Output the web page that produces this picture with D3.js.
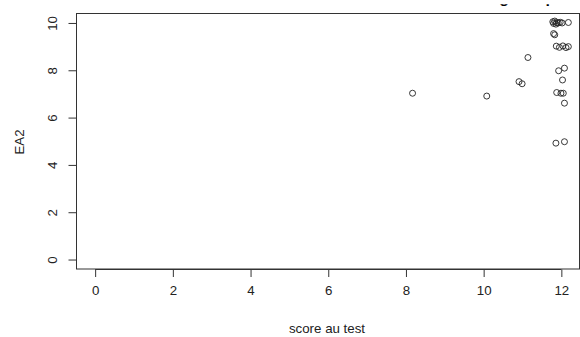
<!DOCTYPE html>
<html>
<head>
<meta charset="utf-8">
<script src="https://cdn.jsdelivr.net/npm/d3@7"></script>
<style>
  html, body { margin: 0; padding: 0; background: #fff; }
  svg { display: block; }
  text { font-family: "Liberation Sans", Arial, sans-serif; fill: #222; }
</style>
</head>
<body>
<svg id="chart" width="580" height="337"></svg>
<script>
// ---- data ----
const scoreTest = [8.17, 10.08, 10.91, 10.99, 11.14,
  11.78, 11.80, 11.83, 11.86, 11.88, 11.92, 11.97, 12.02, 12.18,
  11.80, 11.83,
  11.87, 11.95, 12.04, 12.12, 12.18,
  11.93, 12.08, 12.03,
  11.88, 11.99, 12.05, 12.08,
  11.86, 12.08];
const ea2 = [7.03, 6.91, 7.52, 7.43, 8.54,
  10.05, 9.98, 10.08, 9.95, 10.02, 10.00, 10.03, 10.00, 10.02,
  9.55, 9.50,
  9.02, 8.97, 9.03, 8.96, 9.00,
  7.98, 8.09, 7.59,
  7.06, 7.03, 7.03, 6.61,
  4.92, 4.98];
const xTicks = [0, 2, 4, 6, 8, 10, 12];
const yTicks = [0, 2, 4, 6, 8, 10];
const xLabel = "score au test";
const yLabel = "EA2";
const title = "Nuage de points";

const svg = d3.select("#chart");
const mLeft = 76.5, mRight = 580, mTop = 13.5, mBottom = 269;

const x = d3.scaleLinear().domain([-0.48, 12.48]).range([mLeft, mRight]);
const y = d3.scaleLinear().domain([-0.4, 10.4]).range([mBottom, mTop]);

// title (mostly outside the visible area, only descenders show)
const defs = svg.append("defs");
defs.append("clipPath").attr("id", "titleClip")
  .append("rect").attr("x", 0).attr("y", 4.2).attr("width", 580).attr("height", 10);
svg.append("text")
  .attr("clip-path", "url(#titleClip)")
  .attr("x", 469).attr("y", 2.5)
  .attr("font-size", 16).attr("font-weight", "bold")
  .style("fill", "#000")
  .text(title);

// box
svg.append("rect")
  .attr("x", mLeft).attr("y", mTop)
  .attr("width", 579.5 - mLeft).attr("height", mBottom - mTop)
  .attr("fill", "none").attr("stroke", "#333").attr("stroke-width", 1);

// x axis
const xAxis = d3.axisBottom(x).tickValues(xTicks).tickSize(7.5).tickPadding(9).tickFormat(d3.format("d"));
const gx = svg.append("g").attr("transform", `translate(0,${mBottom + 0.5})`).call(xAxis);
gx.select(".domain").attr("d", `M${x(0)},0H${x(12)}`).attr("stroke", "#333");
gx.selectAll(".tick line").attr("stroke", "#333");
gx.selectAll(".tick text").attr("font-size", 13.3).style("fill", "#222")
  .attr("font-family", "Liberation Sans, Arial, sans-serif");

// y axis
const yAxis = d3.axisLeft(y).tickValues(yTicks).tickSize(8).tickPadding(0).tickFormat(d3.format("d"));
const gy = svg.append("g").attr("transform", `translate(${mLeft},0)`).call(yAxis);
gy.select(".domain").attr("d", `M0,${y(0)}V${y(10)}`).attr("stroke", "#333");
gy.selectAll(".tick line").attr("stroke", "#333");
gy.selectAll(".tick text").remove();
gy.selectAll(".tick").append("text")
  .attr("transform", "translate(-24,0) rotate(-90)")
  .attr("text-anchor", "middle")
  .attr("font-size", 13.3)
  .attr("dy", "0.35em")
  .text(d => d);

// axis titles
svg.append("text").attr("x", 327).attr("y", 333)
  .attr("text-anchor", "middle").attr("font-size", 13.3).text(xLabel);
svg.append("text")
  .attr("transform", `translate(24,142) rotate(-90)`)
  .attr("text-anchor", "middle").attr("font-size", 13.3).text(yLabel);

// points
svg.append("g").selectAll("circle")
  .data(scoreTest.map((v, i) => [v, ea2[i]]))
  .join("circle")
  .attr("cx", d => x(d[0]))
  .attr("cy", d => y(d[1]))
  .attr("r", 3)
  .attr("fill", "none")
  .attr("stroke", "#222")
  .attr("stroke-width", 0.9);
</script>
</body>
</html>
